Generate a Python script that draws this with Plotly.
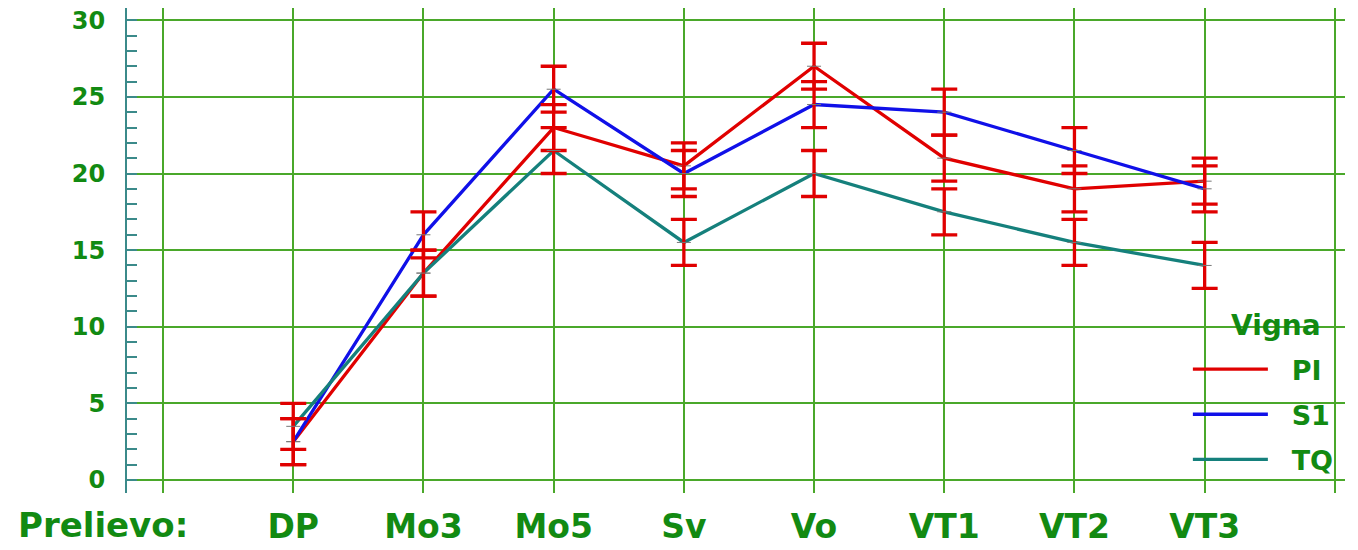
import plotly.graph_objects as go

categories = ["DP", "Mo3", "Mo5", "Sv", "Vo", "VT1", "VT2", "VT3"]
pi_vals = [2.5, 13.5, 23.0, 20.5, 27.0, 21.0, 19.0, 19.5]
s1_vals = [2.5, 16.0, 25.5, 20.0, 24.5, 24.0, 21.5, 19.0]
tq_vals = [3.5, 13.5, 21.5, 15.5, 20.0, 17.5, 15.5, 14.0]
pi_err = [1.5, 1.5, 1.5, 1.5, 1.5, 1.5, 1.5, 1.5]
s1_err = [1.5, 1.5, 1.5, 1.5, 1.5, 1.5, 1.5, 1.5]
tq_err = [1.5, 1.5, 1.5, 1.5, 1.5, 1.5, 1.5, 1.5]
y_ticks = [0, 5, 10, 15, 20, 25, 30]

series = [
    ("PI", pi_vals, pi_err, "#e00000"),
    ("S1", s1_vals, s1_err, "#1010e8"),
    ("TQ", tq_vals, tq_err, "#15807c"),
]

GREEN_TXT = "#128a12"
GRID = "#4aa82a"
AXIS = "#3b8a8a"
FONT = "DejaVu Sans"
PAD = "\u00a0\u00a0"

xs = list(range(len(categories)))
fig = go.Figure()

for name, vals, err, col in series:
    fig.add_trace(go.Scatter(
        x=xs, y=vals, mode="lines", name=PAD + name,
        line=dict(color=col, width=3.3),
        legendgroup=name,
    ))

for name, vals, err, col in series:
    fig.add_trace(go.Scatter(
        x=xs, y=vals, mode="markers", showlegend=False,
        marker=dict(symbol="line-ew", size=10, color="#777777",
                    line=dict(color="#777777", width=1)),
        error_y=dict(type="data", array=err, visible=True,
                     color="#e00000", thickness=3.3, width=13),
        legendgroup=name,
    ))

fig.update_layout(
    width=1358, height=550,
    margin=dict(l=127, r=13, t=8, b=57),
    paper_bgcolor="white", plot_bgcolor="white",
    font=dict(family=FONT, color=GREEN_TXT, weight="bold"),
    showlegend=True,
    legend=dict(
        font=dict(size=27, color=GREEN_TXT, family=FONT, weight="bold"),
        x=0.871, y=0.305, xanchor="left", yanchor="top",
        bgcolor="rgba(0,0,0,0)", tracegroupgap=7,
        itemwidth=75,
    ),
    xaxis=dict(
        range=[-1.277, 8.078],
        tickvals=[-1] + xs + [8],
        ticktext=[""] + categories + [""],
        showgrid=True, gridcolor=GRID, gridwidth=2,
        zeroline=False, showline=False, ticks="",
        tickfont=dict(size=33, color=GREEN_TXT, family=FONT, weight="bold"),
        ticklabelstandoff=11, automargin=False,
    ),
    yaxis=dict(
        range=[-0.85, 30.8],
        tickvals=y_ticks,
        ticktext=[str(v) for v in y_ticks],
        showgrid=True, gridcolor=GRID, gridwidth=2,
        zeroline=False, showline=True, linecolor=AXIS, linewidth=2,
        ticks="",
        minor=dict(dtick=1, ticks="inside", ticklen=10, tickcolor=AXIS, tickwidth=2, showgrid=False),
        tickfont=dict(size=24, color=GREEN_TXT, family=FONT, weight="bold"),
        ticklabelstandoff=15, automargin=False,
    ),
    annotations=[
        dict(
            text="Prelievo:", xref="paper", yref="paper",
            x=-0.02, y=-0.066, xanchor="center", yanchor="middle",
            showarrow=False,
            font=dict(size=34, color=GREEN_TXT, family=FONT, weight="bold"),
        ),
        dict(
            text="Vigna", xref="paper", yref="paper",
            x=(1276 - 127) / 1218, y=(493 - 325) / 485,
            xanchor="center", yanchor="middle", showarrow=False,
            font=dict(size=28, color=GREEN_TXT, family=FONT, weight="bold"),
        ),
    ],
)

fig.write_html("out.html")
